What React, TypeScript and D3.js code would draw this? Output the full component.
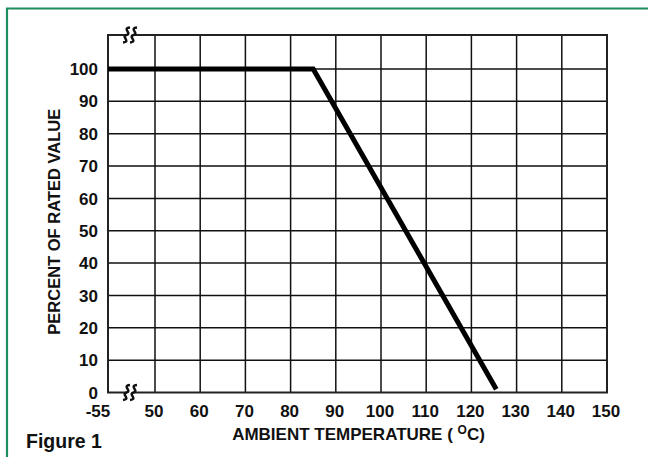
import { useEffect, useRef } from "react";
import * as d3 from "d3";

// temperature axis: -55 sits before an axis break, then 50..150
const tempTicks = [-55, 50, 60, 70, 80, 90, 100, 110, 120, 130, 140, 150];
const percentTicks = [0, 10, 20, 30, 40, 50, 60, 70, 80, 90, 100];

// derating curve
const curveTemp = [-55, 85, 125.5];
const curvePercent = [100, 100, 1];

const WIDTH = 648;
const HEIGHT = 457;
const FONT = "'Liberation Sans', Arial, Helvetica, sans-serif";
const GREEN = "#1d8c5e";

export default function App() {
	const svgRef = useRef<SVGSVGElement>(null);

	useEffect(() => {
		if (!svgRef.current) return;
		const svg = d3.select(svgRef.current);
		svg.selectAll("*").remove();

		const margin = { top: 35, right: 41, bottom: 64.5, left: 108 };
		const left = margin.left;
		const right = WIDTH - margin.right;
		const bottom = HEIGHT - margin.bottom;

		// piecewise scale so the broken first interval is a bit wider
		const x = d3.scaleLinear()
			.domain([-55, 50, 150])
			.range([left, left + 47, right]);

		const y = d3.scaleLinear()
			.domain([0, 110.5])
			.range([bottom, margin.top]);

		svg.append("rect")
			.attr("width", WIDTH)
			.attr("height", HEIGHT)
			.attr("fill", "#fff");

		// green frame, only top and left edges fall inside the picture
		svg.append("path")
			.attr("d", `M7,${HEIGHT + 5} L7,8.5 L${WIDTH + 5},8.5`)
			.attr("fill", "none")
			.attr("stroke", GREEN)
			.attr("stroke-width", 2.2);

		const g = svg.append("g");

		g.selectAll(".vgrid")
			.data(tempTicks.slice(1, -1))
			.enter()
			.append("line")
			.attr("x1", d => x(d))
			.attr("x2", d => x(d))
			.attr("y1", y(110.5))
			.attr("y2", y(0))
			.attr("stroke", "#111")
			.attr("stroke-width", 1.5);

		g.selectAll(".hgrid")
			.data(percentTicks.slice(1))
			.enter()
			.append("line")
			.attr("x1", x(-55))
			.attr("x2", x(150))
			.attr("y1", d => y(d))
			.attr("y2", d => y(d))
			.attr("stroke", "#111")
			.attr("stroke-width", 1.5);

		g.append("rect")
			.attr("x", x(-55))
			.attr("y", y(110.5))
			.attr("width", x(150) - x(-55))
			.attr("height", y(0) - y(110.5))
			.attr("fill", "none")
			.attr("stroke", "#222")
			.attr("stroke-width", 2);

		// axis break marks
		const breakX = x(-55) + 22;
		const squiggle = "M3.5,-7.5 C-5,-6.5 6,-1.5 0,0 C-6,1.5 5,6.5 -3.5,7.5";
		[y(110.5), y(0)].forEach(by => {
			const bg = g.append("g").attr("transform", `translate(${breakX},${by})`);
			bg.append("rect")
				.attr("x", -3)
				.attr("y", -2)
				.attr("width", 6)
				.attr("height", 4)
				.attr("fill", "#fff");
			[-3.5, 3.5].forEach(dx => {
				bg.append("path")
					.attr("d", squiggle)
					.attr("transform", `translate(${dx},0)`)
					.attr("fill", "none")
					.attr("stroke", "#111")
					.attr("stroke-width", 2.5);
			});
		});

		const line = d3.line<number>()
			.x((d, i) => x(curveTemp[i]))
			.y(d => y(d));

		g.append("path")
			.datum(curvePercent)
			.attr("d", line)
			.attr("fill", "none")
			.attr("stroke", "#000")
			.attr("stroke-width", 5)
			.attr("stroke-linejoin", "miter");

		// tick labels
		g.selectAll(".ylab")
			.data(percentTicks)
			.enter()
			.append("text")
			.attr("x", left - 10)
			.attr("y", d => y(d))
			.attr("dy", "0.36em")
			.attr("text-anchor", "end")
			.attr("font-family", FONT)
			.attr("font-weight", "bold")
			.attr("font-size", 17)
			.attr("fill", "#111")
			.text(d => d);

		g.selectAll(".xlab")
			.data(tempTicks)
			.enter()
			.append("text")
			.attr("x", d => x(d) + (d === -55 ? -10 : -1))
			.attr("y", bottom + 24.5)
			.attr("text-anchor", "middle")
			.attr("font-family", FONT)
			.attr("font-weight", "bold")
			.attr("font-size", 17)
			.attr("fill", "#111")
			.text(d => d);

		// axis titles
		g.append("text")
			.attr("transform", `translate(60,${(y(0) + y(110.5)) / 2 + 8}) rotate(-90)`)
			.attr("text-anchor", "middle")
			.attr("font-family", FONT)
			.attr("font-weight", "bold")
			.attr("font-size", 16.5)
			.attr("fill", "#111")
			.text("PERCENT OF RATED VALUE");

		const xt = g.append("text")
			.attr("x", (left + right) / 2 + 1)
			.attr("y", bottom + 47.5)
			.attr("text-anchor", "middle")
			.attr("font-family", FONT)
			.attr("font-weight", "bold")
			.attr("font-size", 17)
			.attr("fill", "#111");
		xt.append("tspan").text("AMBIENT TEMPERATURE ( ");
		xt.append("tspan").attr("dy", -6).attr("font-size", 12).text("O");
		xt.append("tspan").attr("dy", 6).text("C)");

		svg.append("text")
			.attr("x", 26)
			.attr("y", 448)
			.attr("font-family", FONT)
			.attr("font-weight", "bold")
			.attr("font-size", 19.5)
			.attr("fill", "#111")
			.text("Figure 1");
	}, []);

	return (
		<svg
			ref={svgRef}
			width={WIDTH}
			height={HEIGHT}
			style={{ position: "absolute", left: 0, top: 0, display: "block" }}
		/>
	);
}
